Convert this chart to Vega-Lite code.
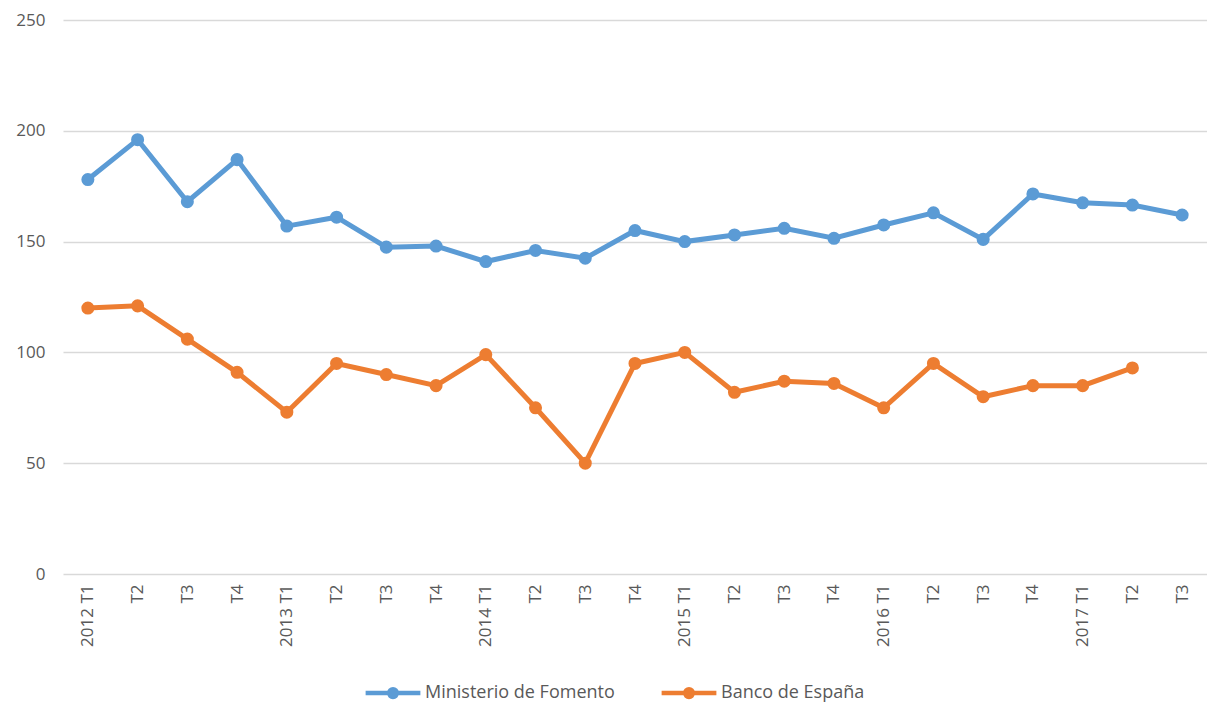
{
  "$schema": "https://vega.github.io/schema/vega-lite/v6.json",
  "width": 1144,
  "height": 554,
  "autosize": {"type": "none"},
  "padding": {"left": 63, "top": 20, "right": 0, "bottom": 128},
  "background": "white",
  "config": {
    "font": "Open Sans",
    "view": {"stroke": null},
    "axis": {"labelColor": "#595959", "labelFont": "Open Sans"},
    "legend": {"labelColor": "#595959", "labelFont": "Open Sans"}
  },
  "data": {
    "values": [
      {"q": "2012 T1", "serie": "Ministerio de Fomento", "valor": 178},
      {"q": "2012 T2", "serie": "Ministerio de Fomento", "valor": 196},
      {"q": "2012 T3", "serie": "Ministerio de Fomento", "valor": 168},
      {"q": "2012 T4", "serie": "Ministerio de Fomento", "valor": 187},
      {"q": "2013 T1", "serie": "Ministerio de Fomento", "valor": 157},
      {"q": "2013 T2", "serie": "Ministerio de Fomento", "valor": 161},
      {"q": "2013 T3", "serie": "Ministerio de Fomento", "valor": 147.5},
      {"q": "2013 T4", "serie": "Ministerio de Fomento", "valor": 148},
      {"q": "2014 T1", "serie": "Ministerio de Fomento", "valor": 141},
      {"q": "2014 T2", "serie": "Ministerio de Fomento", "valor": 146},
      {"q": "2014 T3", "serie": "Ministerio de Fomento", "valor": 142.5},
      {"q": "2014 T4", "serie": "Ministerio de Fomento", "valor": 155},
      {"q": "2015 T1", "serie": "Ministerio de Fomento", "valor": 150},
      {"q": "2015 T2", "serie": "Ministerio de Fomento", "valor": 153},
      {"q": "2015 T3", "serie": "Ministerio de Fomento", "valor": 156},
      {"q": "2015 T4", "serie": "Ministerio de Fomento", "valor": 151.5},
      {"q": "2016 T1", "serie": "Ministerio de Fomento", "valor": 157.5},
      {"q": "2016 T2", "serie": "Ministerio de Fomento", "valor": 163},
      {"q": "2016 T3", "serie": "Ministerio de Fomento", "valor": 151},
      {"q": "2016 T4", "serie": "Ministerio de Fomento", "valor": 171.5},
      {"q": "2017 T1", "serie": "Ministerio de Fomento", "valor": 167.5},
      {"q": "2017 T2", "serie": "Ministerio de Fomento", "valor": 166.5},
      {"q": "2017 T3", "serie": "Ministerio de Fomento", "valor": 162},
      {"q": "2012 T1", "serie": "Banco de España", "valor": 120},
      {"q": "2012 T2", "serie": "Banco de España", "valor": 121},
      {"q": "2012 T3", "serie": "Banco de España", "valor": 106},
      {"q": "2012 T4", "serie": "Banco de España", "valor": 91},
      {"q": "2013 T1", "serie": "Banco de España", "valor": 73},
      {"q": "2013 T2", "serie": "Banco de España", "valor": 95},
      {"q": "2013 T3", "serie": "Banco de España", "valor": 90},
      {"q": "2013 T4", "serie": "Banco de España", "valor": 85},
      {"q": "2014 T1", "serie": "Banco de España", "valor": 99},
      {"q": "2014 T2", "serie": "Banco de España", "valor": 75},
      {"q": "2014 T3", "serie": "Banco de España", "valor": 50},
      {"q": "2014 T4", "serie": "Banco de España", "valor": 95},
      {"q": "2015 T1", "serie": "Banco de España", "valor": 100},
      {"q": "2015 T2", "serie": "Banco de España", "valor": 82},
      {"q": "2015 T3", "serie": "Banco de España", "valor": 87},
      {"q": "2015 T4", "serie": "Banco de España", "valor": 86},
      {"q": "2016 T1", "serie": "Banco de España", "valor": 75},
      {"q": "2016 T2", "serie": "Banco de España", "valor": 95},
      {"q": "2016 T3", "serie": "Banco de España", "valor": 80},
      {"q": "2016 T4", "serie": "Banco de España", "valor": 85},
      {"q": "2017 T1", "serie": "Banco de España", "valor": 85},
      {"q": "2017 T2", "serie": "Banco de España", "valor": 93}
    ]
  },
  "mark": {"type": "line", "strokeWidth": 5, "point": {"size": 170, "filled": true, "opacity": 1}},
  "encoding": {
    "x": {
      "field": "q",
      "type": "ordinal",
      "sort": null,
      "scale": {"type": "point", "padding": 0.5},
      "axis": {
        "title": null,
        "labelAngle": -90,
        "labelAlign": "right",
        "labelBaseline": "middle",
        "labelFontSize": 17,
        "labelPadding": 10,
        "ticks": false,
        "domain": false,
        "grid": false,
        "labelExpr": "indexof(datum.value, 'T1') >= 0 ? datum.value : substring(datum.value, 5)"
      }
    },
    "y": {
      "field": "valor",
      "type": "quantitative",
      "scale": {"domain": [0, 250], "nice": false},
      "axis": {
        "title": null,
        "values": [0, 50, 100, 150, 200, 250],
        "labelFontSize": 17,
        "labelPadding": 18,
        "ticks": false,
        "domain": false,
        "gridColor": "#D9D9D9",
        "gridWidth": 1.5
      }
    },
    "color": {
      "field": "serie",
      "type": "nominal",
      "scale": {"domain": ["Ministerio de Fomento", "Banco de España"], "range": ["#5B9BD5", "#ED7D31"]},
      "legend": {
        "title": null,
        "orient": "none",
        "direction": "horizontal",
        "legendX": 300,
        "legendY": 643,
        "labelFontSize": 18,
        "labelLimit": 500,
        "symbolType": "M-1,0H1M-0.14,0A0.14,0.14 0 1,1 0.14,0A0.14,0.14 0 1,1 -0.14,0Z",
        "symbolSize": 3000,
        "symbolStrokeWidth": 4.5,
        "symbolOffset": 0,
        "labelOffset": 2,
        "columnPadding": 37,
        "encode": {
          "symbols": {
            "update": {
              "stroke": {"scale": "color", "field": "value"},
              "fill": {"scale": "color", "field": "value"},
              "opacity": {"value": 1},
              "strokeOpacity": {"value": 1},
              "fillOpacity": {"value": 1}
            }
          }
        }
      }
    }
  }
}
